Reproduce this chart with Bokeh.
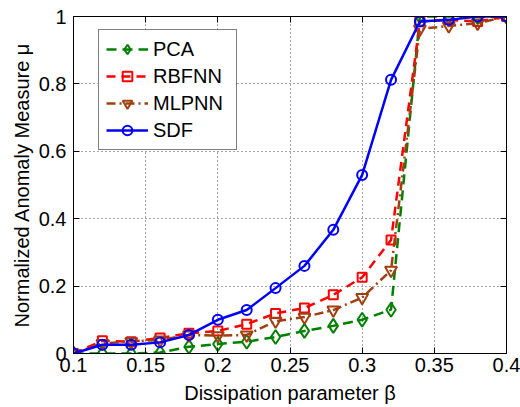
from bokeh.plotting import figure
from bokeh.embed import file_html
from bokeh.resources import INLINE
from bokeh.models import (FixedTicker, CustomJSTickFormatter, LinearAxis, Range1d,
                          Legend, LegendItem)

beta = [0.10, 0.12, 0.14, 0.16, 0.18, 0.20, 0.22, 0.24, 0.26, 0.28, 0.30, 0.32, 0.34, 0.36, 0.38, 0.40]
pca = [0.0, 0.0, 0.0, 0.003, 0.02, 0.028, 0.035, 0.049, 0.067, 0.082, 0.10, 0.13, 1.0, 1.0, 0.998, 1.0]
rbfnn = [0.0, 0.038, 0.035, 0.046, 0.06, 0.067, 0.087, 0.119, 0.135, 0.174, 0.226, 0.337, 0.985, 0.99, 0.985, 1.0]
mlpnn = [0.0, 0.03, 0.036, 0.04, 0.055, 0.053, 0.055, 0.096, 0.108, 0.129, 0.166, 0.247, 0.963, 0.972, 0.98, 1.0]
sdf = [0.0, 0.026, 0.026, 0.033, 0.055, 0.10, 0.129, 0.194, 0.26, 0.367, 0.53, 0.812, 0.985, 0.99, 1.0, 1.0]

x_ticks = [0.1, 0.15, 0.2, 0.25, 0.3, 0.35, 0.4]
y_ticks = [0, 0.2, 0.4, 0.6, 0.8, 1]

FONT = "Liberation Sans"
FS = "20px"

p = figure(width=520, height=407, output_backend="svg", toolbar_location=None,
           x_range=Range1d(0.1, 0.4), y_range=Range1d(0, 1),
           min_border_left=73, min_border_right=14, min_border_top=16, min_border_bottom=54,
           x_axis_label="Dissipation parameter β", y_axis_label="Normalized Anomaly Measure μ")
p.background_fill_color = "white"
p.border_fill_color = "white"
p.outline_line_color = "black"
p.outline_line_width = 1

fmt = CustomJSTickFormatter(code="return String(Math.round(tick*1000)/1000);")

for ax, ticks in ((p.xaxis[0], x_ticks), (p.yaxis[0], y_ticks)):
    ax.ticker = FixedTicker(ticks=ticks)
    ax.formatter = fmt
    ax.major_label_text_font = FONT
    ax.major_label_text_font_size = FS
    ax.major_label_text_color = "black"
    ax.axis_label_text_font = FONT
    ax.axis_label_text_font_size = FS
    ax.axis_label_text_font_style = "normal"
    ax.axis_label_text_color = "black"
    ax.major_tick_in = 6
    ax.major_tick_out = 0
    ax.minor_tick_in = 0
    ax.minor_tick_out = 0
    ax.axis_line_color = "black"
    ax.major_tick_line_color = "black"

p.xaxis.major_label_standoff = 4
p.xaxis.axis_label_standoff = 7
p.yaxis.major_label_standoff = 7
p.yaxis.axis_label_standoff = 3

for loc, ticks in (("right", y_ticks), ("above", x_ticks)):
    ax = LinearAxis(ticker=FixedTicker(ticks=ticks),
                    formatter=CustomJSTickFormatter(code="return '';"))
    ax.major_label_standoff = 0
    ax.major_tick_in = 6
    ax.major_tick_out = 0
    ax.minor_tick_in = 0
    ax.minor_tick_out = 0
    ax.axis_line_color = "black"
    ax.major_tick_line_color = "black"
    p.add_layout(ax, loc)

p.xgrid.ticker = FixedTicker(ticks=x_ticks)
p.ygrid.ticker = FixedTicker(ticks=y_ticks)
for g in (p.xgrid[0], p.ygrid[0]):
    g.grid_line_color = "black"
    g.grid_line_alpha = 0.7
    g.grid_line_dash = "1 3"
    g.grid_line_width = 1

series = [
    ("PCA", pca, "#008000", "10 6", "diamond", 14),
    ("RBFNN", rbfnn, "#ff0000", "9 6", "square", 9),
    ("MLPNN", mlpnn, "#a04010", "9 4 2 4", "inverted_triangle", 12),
    ("SDF", sdf, "#0000ff", "solid", "circle", 10),
]

items = []
for name, ys, color, dash, marker, size in series:
    l = p.line(beta, ys, line_color=color, line_width=2.5, line_dash=dash)
    s = p.scatter(beta, ys, marker=marker, size=size, line_color=color, line_width=2,
                  fill_color=None)
    items.append(LegendItem(label=name, renderers=[l, s]))

legend = Legend(items=items, location=(25, 203), margin=0, padding=7,
                label_text_font=FONT, label_text_font_size=FS, label_text_color="black",
                glyph_width=42, glyph_height=24, label_height=24, label_width=76, spacing=3,
                label_standoff=5, border_line_color="black", border_line_width=1,
                background_fill_color="white", background_fill_alpha=1)
p.add_layout(legend, "center")

open("out.html", "w").write(file_html(p, INLINE))
